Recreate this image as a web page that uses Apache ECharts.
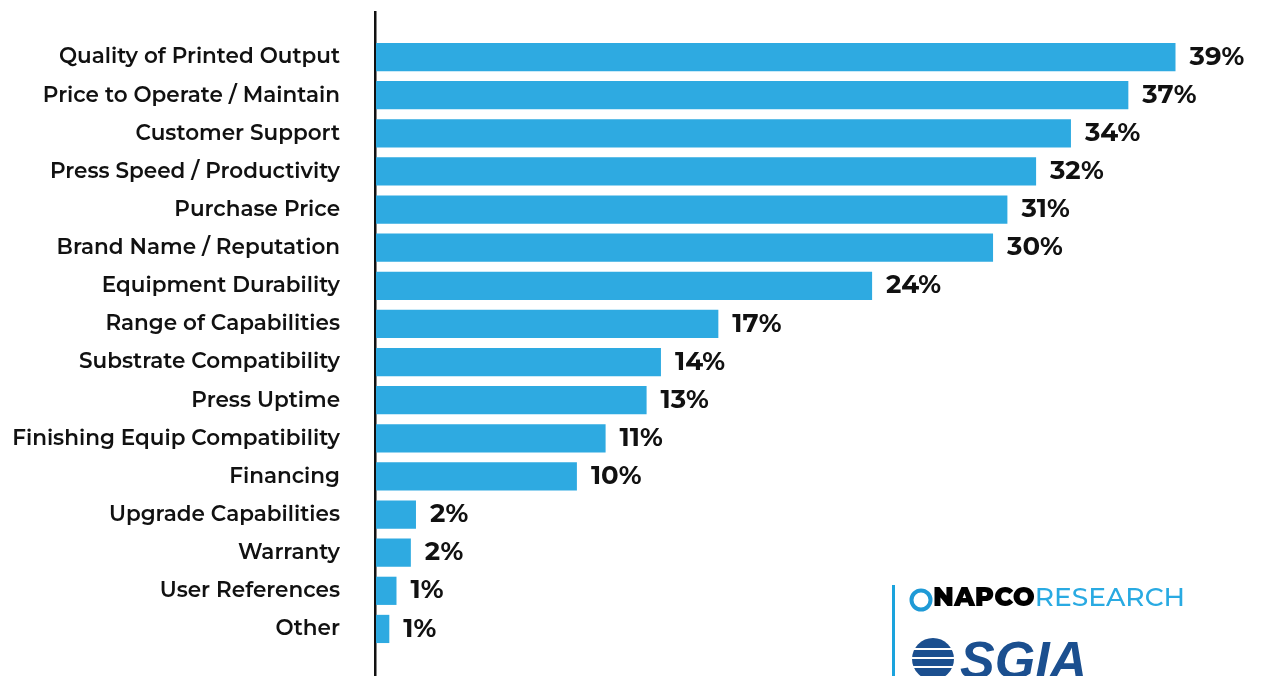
<!DOCTYPE html>
<html>
<head>
<meta charset="utf-8">
<script src="https://cdn.jsdelivr.net/npm/echarts@6/dist/echarts.min.js"></script>
<style>
  html, body { margin: 0; padding: 0; background: #fff; }
  #chart { width: 1266px; height: 676px; }
</style>
</head>
<body>
<div id="chart"></div>
<script>
// categories top -> bottom
const categories = [
  "Quality of Printed Output",
  "Price to Operate / Maintain",
  "Customer Support",
  "Press Speed / Productivity",
  "Purchase Price",
  "Brand Name / Reputation",
  "Equipment Durability",
  "Range of Capabilities",
  "Substrate Compatibility",
  "Press Uptime",
  "Finishing Equip Compatibility",
  "Financing",
  "Upgrade Capabilities",
  "Warranty",
  "User References",
  "Other"
];
// bar lengths (percent)
const shares = [39.0, 36.7, 33.9, 32.2, 30.8, 30.1, 24.2, 16.7, 13.9, 13.2, 11.2, 9.8, 1.95, 1.7, 1.0, 0.65];
// printed labels
const shareLabels = ["39%", "37%", "34%", "32%", "31%", "30%", "24%", "17%", "14%", "13%", "11%", "10%", "2%", "2%", "1%", "1%"];

const BAR_COLOR = "#2eaae1";
const FONT = "Montserrat, Lato, 'Noto Sans', sans-serif";

const chart = echarts.init(document.getElementById("chart"));

chart.setOption({
  animation: false,
  grid: { left: 376, right: 70, top: 38, bottom: 28, containLabel: false },
  xAxis: {
    type: "value",
    min: 0,
    max: 40,
    show: false
  },
  yAxis: {
    type: "category",
    inverse: true,
    data: categories,
    axisLine: { show: false },
    axisTick: { show: false },
    axisLabel: {
      margin: 36,
      color: "#111",
      fontFamily: FONT,
      fontWeight: 600,
      fontSize: 21.5,
      padding: [6, 0, 0, 0]
    }
  },
  series: [{
    type: "bar",
    data: shares,
    barCategoryGap: "26%",
    itemStyle: { color: BAR_COLOR },
    label: {
      show: true,
      position: "right",
      distance: 14,
      color: "#111",
      fontFamily: FONT,
      fontWeight: "bold",
      fontSize: 26,
      formatter: (p) => shareLabels[p.dataIndex]
    }
  }],
  graphic: [
    // vertical axis line spanning the whole plot height
    { type: "rect", shape: { x: 374, y: 11, width: 2.5, height: 665 }, style: { fill: "#111" }, silent: true },
    // logo block
    { type: "rect", shape: { x: 892, y: 585, width: 3, height: 91 }, style: { fill: "#1aa3dd" }, silent: true },
    { type: "circle", shape: { cx: 921, cy: 600, r: 9.5 }, style: { fill: "none", stroke: "#1f9ad6", lineWidth: 4 }, silent: true },
    {
      type: "text", left: 933, top: 585,
      style: {
        text: "{a|NAPCO}{b|RESEARCH}",
        rich: {
          a: { fontFamily: FONT, fontWeight: 900, fontSize: 26, fill: "#000" },
          b: { fontFamily: FONT, fontWeight: 500, fontSize: 26.5, fill: "#29aae2" }
        }
      },
      silent: true
    },
    { type: "circle", shape: { cx: 933, cy: 659, r: 21 }, style: { fill: "#1b4f8f" }, silent: true },
    { type: "rect", shape: { x: 910, y: 648, width: 46, height: 2 }, style: { fill: "#fff" }, silent: true },
    { type: "rect", shape: { x: 910, y: 657, width: 46, height: 2 }, style: { fill: "#fff" }, silent: true },
    { type: "rect", shape: { x: 910, y: 666, width: 46, height: 2 }, style: { fill: "#fff" }, silent: true },
    {
      type: "text", left: 960, top: 638,
      style: {
        text: "SGIA",
        fontFamily: "'Liberation Sans', Arial, sans-serif",
        fontWeight: 900,
        fontStyle: "italic",
        fontSize: 52,
        fill: "#1b4f8f"
      },
      silent: true
    }
  ]
});
</script>
</body>
</html>
